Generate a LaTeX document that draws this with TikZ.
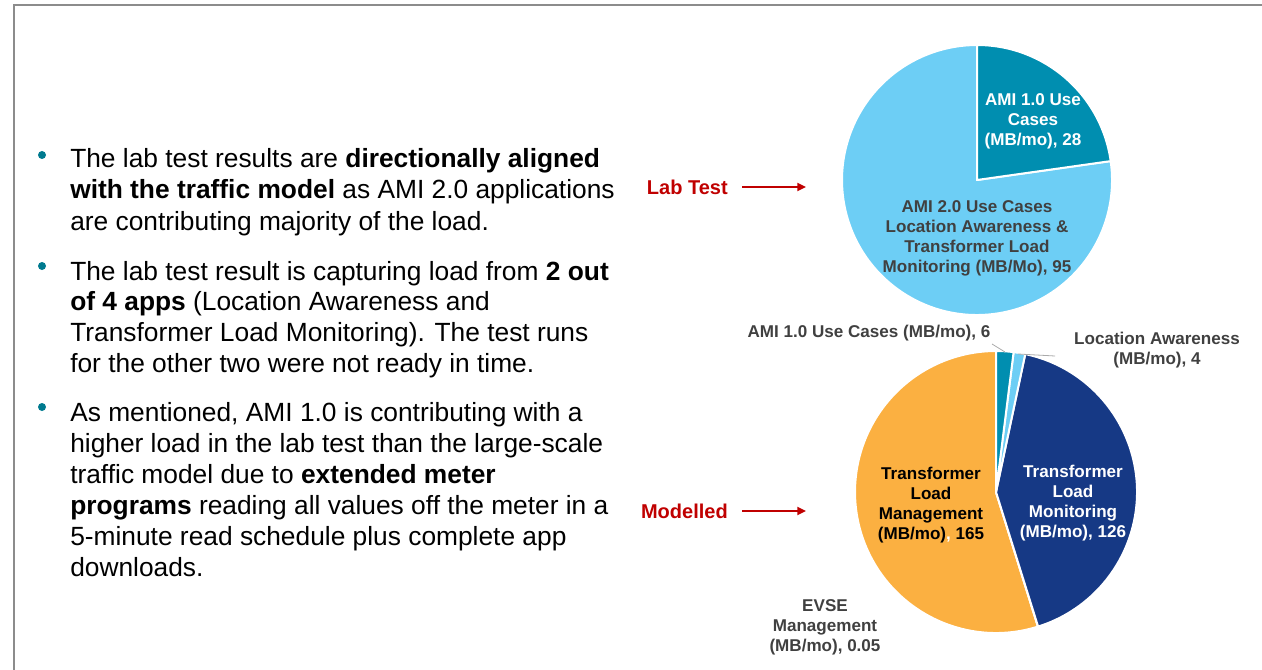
\documentclass[tikz,border=0pt]{standalone}
\usepackage{fontspec}
\setmainfont{Liberation Sans}
\usetikzlibrary{arrows.meta}

\definecolor{amiteal}{RGB}{0,142,176}
\definecolor{skyblue}{RGB}{109,206,245}
\definecolor{navyblue}{RGB}{22,57,133}
\definecolor{amber}{RGB}{251,176,65}
\definecolor{labelgray}{RGB}{64,64,64}
\definecolor{leadgray}{RGB}{170,170,170}
\definecolor{framegray}{RGB}{140,140,140}
\definecolor{bulletteal}{RGB}{0,122,143}
\definecolor{tagred}{RGB}{192,0,0}

\begin{document}
\begin{tikzpicture}[x=0.75pt,y=0.75pt,
  bodyline/.style={anchor=base west, inner sep=0pt, font=\fontsize{19.75}{23}\selectfont},
  bulletdot/.style={fill=bulletteal},
  tag/.style={anchor=east, inner sep=0pt, text=tagred, font=\fontsize{15}{18}\selectfont\bfseries},
  redarrow/.style={draw=tagred, line width=1.3pt, -{Triangle[length=6.5pt,width=6pt]}},
  slice/.style={draw=white, line width=1.5pt, line join=round},
  pielabel/.style={align=center, inner sep=0pt, font=\fontsize{12.8}{15}\selectfont\bfseries},
  leader/.style={draw=leadgray, line width=0.6pt}]

\useasboundingbox (0,0) rectangle (1262,-670);

% slide frame
\draw[framegray, line width=1.5pt] (14,-670) -- (14,-5) -- (1262,-5);

% bullet list
\fill[bulletdot] (42,-155) circle (4);
\fill[bulletdot] (42,-266) circle (4);
\fill[bulletdot] (42,-407) circle (4);

\node[bodyline] (p1a) at (70,-168) {The lab test results are \textbf{directionally aligned}};
\node[bodyline] (p1b) at (70,-199) {\textbf{with the traffic model} as AMI 2.0 applications};
\node[bodyline] (p1c) at (70,-230) {are contributing majority of the load.};

\node[bodyline] (p2a) at (70,-280) {The lab test result is capturing load from \textbf{2 out}};
\node[bodyline] (p2b) at (70,-310) {\textbf{of 4 apps} (Location Awareness and};
\node[bodyline] (p2c) at (70,-341) {Transformer Load Monitoring). The test runs};
\node[bodyline] (p2d) at (70,-372) {for the other two were not ready in time.};

\node[bodyline] (p3a) at (70,-421) {As mentioned, AMI 1.0 is contributing with a};
\node[bodyline] (p3b) at (70,-452) {higher load in the lab test than the large-scale};
\node[bodyline] (p3c) at (70,-483) {traffic model due to \textbf{extended meter}};
\node[bodyline] (p3d) at (70,-514) {\textbf{programs} reading all values off the meter in a};
\node[bodyline] (p3e) at (70,-545) {5-minute read schedule plus complete app};
\node[bodyline] (p3f) at (70,-576) {downloads.};

% chart tags with arrows
\node[tag] (labtest) at (728,-187) {Lab Test};
\node[tag] (modelled) at (728,-511) {Modelled};
\coordinate (labtip) at (806,-186);
\coordinate (modtip) at (806,-514);
\draw[redarrow] (labtest.east) ++(14,0) -- (labtest.east -| labtip);
\draw[redarrow] (modelled.east) ++(14,0) -- (modelled.east -| modtip);

% lab test pie: 28 / 95
\coordinate (topc) at (977,-180);
\filldraw[slice, fill=skyblue] (topc) -- ++(8.05:135) arc[start angle=8.05, end angle=-270, radius=135] -- cycle;
\filldraw[slice, fill=amiteal] (topc) -- ++(90:135) arc[start angle=90, end angle=8.05, radius=135] -- cycle;

\node[pielabel, text=white] (topami) at (1033,-121) {AMI 1.0 Use\\Cases\\(MB/mo), 28};
\node[pielabel, text=labelgray] (topami2) at (977,-238) {AMI 2.0 Use Cases\\Location Awareness \&\\Transformer Load\\Monitoring (MB/Mo), 95};

% modelled pie: 6 / 4 / 126 / 0.05 / 165
\coordinate (botc) at (996,-492);
\filldraw[slice, fill=amber] (botc) -- ++(-72.69:141) arc[start angle=-72.69, end angle=-270, radius=141] -- cycle;
\filldraw[slice, fill=amber] (botc) -- ++(-72.63:141) arc[start angle=-72.63, end angle=-72.69, radius=141] -- cycle;
\filldraw[slice, fill=navyblue] (botc) -- ++(78.04:141) arc[start angle=78.04, end angle=-72.63, radius=141] -- cycle;
\filldraw[slice, fill=skyblue] (botc) -- ++(82.83:141) arc[start angle=82.83, end angle=78.04, radius=141] -- cycle;
\filldraw[slice, fill=amiteal] (botc) -- ++(90:141) arc[start angle=90, end angle=82.83, radius=141] -- cycle;

\node[pielabel, text=black] (tlmgmt) at (931,-505) {Transformer\\Load\\Management\\(MB/mo)\textcolor{white}{,} 165};
\node[pielabel, text=white] (tlmon) at (1073,-503) {Transformer\\Load\\Monitoring\\(MB/mo), 126};

\node[pielabel, text=labelgray] (botami) at (869,-333) {AMI 1.0 Use Cases (MB/mo), 6};
\node[pielabel, text=labelgray] (botloc) at (1157,-350) {Location Awareness\\(MB/mo), 4};
\node[pielabel, text=labelgray] (botevse) at (825,-627) {EVSE\\Management\\(MB/mo), 0.05};

% leader lines for the thin slices
\coordinate (amilead) at (992,-344);
\coordinate (amislice) at (1005,-352);
\coordinate (locslice) at (1018,-354);
\coordinate (loclead) at (1055,-356);
\draw[leader] (amilead) -- (amislice);
\draw[leader] (locslice) -- (loclead);

\end{tikzpicture}
\end{document}
